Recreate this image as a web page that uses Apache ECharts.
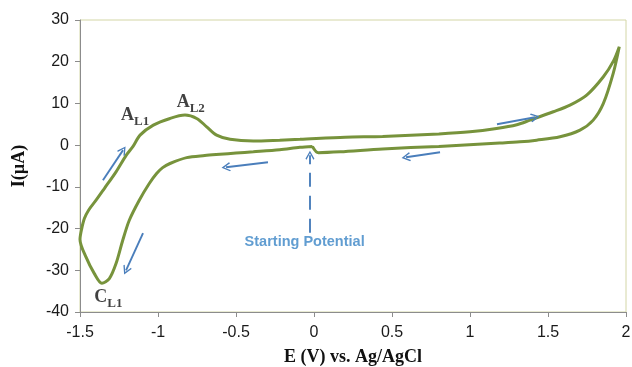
<!DOCTYPE html>
<html><head><meta charset="utf-8">
<script src="https://cdn.jsdelivr.net/npm/echarts@6/dist/echarts.min.js"></script>
<style>html,body{margin:0;padding:0;background:#fff}#c{width:632px;height:367px}</style>
</head><body><div id="c"></div>
<script>
// Potential (V) and current (µA), in scan order
const scanE = [-0.01,-0.09,-0.22,-0.389,-0.50,-0.603,-0.70,-0.816,-0.923,-0.97,-1.009,-1.056,-1.12,-1.184,-1.226,-1.269,-1.312,-1.36,-1.408,-1.462,-1.50,
  -1.49,-1.472,-1.445,-1.397,-1.344,-1.269,-1.205,-1.16,-1.115,-1.03,-0.923,-0.827,-0.752,-0.688,-0.624,-0.538,-0.389,-0.22,-0.09,0.20,0.44,0.80,1.00,1.17,1.30,1.385,1.534,1.641,1.748,1.855,1.92,1.957,
  1.918,1.855,1.79,1.705,1.577,1.427,1.32,1.19,0.80,0.44,0.167,0.028,-0.01];
const scanI = [-0.3,-0.5,-1.1,-1.6,-1.9,-2.2,-2.5,-3.0,-4.4,-5.4,-6.8,-9.2,-13.2,-18.0,-22.8,-28.4,-32.0,-33.1,-30.8,-26.8,-22.6,
  -20.2,-17.6,-15.6,-13.2,-10.4,-6.4,-2.5,-0.3,2.4,4.8,6.4,7.2,6.4,4.4,2.4,1.4,1.0,1.2,1.4,1.9,2.1,2.7,3.2,4.0,4.9,6.0,8.0,9.6,12.0,16.4,20.2,23.6,
  17.2,10.0,6.0,3.6,2.0,1.2,0.8,0.5,-0.3,-0.9,-1.6,-1.8,-0.3];

// Axis ranges and ticks
const xMin = -1.5, xMax = 2, xStep = 0.5;
const yMin = -40, yMax = 30, yStep = 10;

// Direction arrows: [E start, I start, E end, I end]
const scanArrows = [
  [-1.353,-8.4,-1.224,-1.2],
  [-1.096,-21.1,-1.205,-30.0],
  [-0.295,-4.1,-0.564,-5.3],
  [0.808,-1.7,0.59,-2.9],
  [1.173,5.0,1.417,6.7]
];
// Starting-potential arrow: dashed shaft, then head
const startShaft = [-0.026,-21.0,-0.026,-5.0];
const startHead = [-0.026,-4.6,-0.026,-2.4];

// Peak labels: [E, I, letter, subscript]
const peakLabels = [
  [-1.147, 6.6, 'A', 'L1'],
  [-0.79, 9.9, 'A', 'L2'],
  [-1.318, -37.0, 'C', 'L1']
];
const startText = [-0.06, -23.2, 'Starting Potential'];

const loop = scanE.map((e, i) => [e, scanI[i]]);
const chev = 'path://M6,0 L12,8 L10.6,9 L6,2.6 L1.4,9 L0,8 Z';
const blue = '#4a7ebb';
const seg = a => ({coords: [[a[0], a[1]], [a[2], a[3]]]});

const chart = echarts.init(document.getElementById('c'));
chart.setOption({
  animation: false,
  grid: {left: 80, right: 6, top: 20, bottom: 55, containLabel: false, outerBoundsMode: 'none',
    show: true, borderColor: '#d3d6a6', borderWidth: 1},
  xAxis: {
    type: 'value', min: xMin, max: xMax, interval: xStep,
    name: 'E (V) vs. Ag/AgCl', nameLocation: 'middle', nameGap: 36,
    nameTextStyle: {fontFamily: 'Liberation Serif', fontWeight: 'bold', fontSize: 18, color: '#111'},
    axisLine: {onZero: false, lineStyle: {color: '#8c8c8c', width: 1}},
    axisTick: {show: true, inside: false, length: 5, lineStyle: {color: '#8c8c8c'}},
    axisLabel: {fontFamily: 'Liberation Sans', fontSize: 16, color: '#1a1a1a', margin: 13},
    splitLine: {show: false}
  },
  yAxis: {
    type: 'value', min: yMin, max: yMax, interval: yStep,
    name: 'I(µA)', nameLocation: 'middle', nameGap: 52, nameRotate: 90,
    nameTextStyle: {fontFamily: 'Liberation Serif', fontWeight: 'bold', fontSize: 18, color: '#111'},
    axisLine: {show: true, onZero: false, lineStyle: {color: '#8c8c8c', width: 1}},
    axisTick: {show: true, inside: false, length: 5, lineStyle: {color: '#8c8c8c'}},
    axisLabel: {fontFamily: 'Liberation Sans', fontSize: 16, color: '#1a1a1a', margin: 11},
    splitLine: {show: false}
  },
  series: [
    {
      type: 'line', data: loop, smooth: 0.3, showSymbol: false, symbol: 'none',
      lineStyle: {color: '#77933c', width: 3}, z: 3
    },
    {
      type: 'lines', coordinateSystem: 'cartesian2d', z: 4,
      symbol: ['none', chev], symbolSize: [12, 9],
      lineStyle: {color: blue, width: 1.9, opacity: 1},
      data: scanArrows.map(seg).concat([seg(startHead)])
    },
    {
      type: 'lines', coordinateSystem: 'cartesian2d', z: 4,
      symbol: ['none', 'none'],
      lineStyle: {color: blue, width: 1.9, opacity: 1, type: [14, 9]},
      data: [seg(startShaft)]
    },
    {
      type: 'scatter', symbolSize: 0, z: 5,
      data: peakLabels.map(p => ({value: [p[0], p[1]], txt: p[2], sub: p[3]})),
      label: {
        show: true, position: 'inside',
        formatter: p => '{a|' + p.data.txt + '}{s|' + p.data.sub + '}',
        rich: {
          a: {fontFamily: 'Liberation Serif', fontWeight: 'bold', fontSize: 18, color: '#111', verticalAlign: 'top', lineHeight: 22},
          s: {fontFamily: 'Liberation Serif', fontWeight: 'bold', fontSize: 13, color: '#111', verticalAlign: 'bottom', lineHeight: 22}
        }
      }
    },
    {
      type: 'scatter', symbolSize: 0, z: 5,
      data: [{value: [startText[0], startText[1]], txt: startText[2]}],
      label: {show: true, position: 'inside', formatter: p => p.data.txt,
        fontFamily: 'Liberation Sans', fontWeight: 'bold', fontSize: 14.5, color: '#3a84c6'}
    }
  ]
});
</script></body></html>
